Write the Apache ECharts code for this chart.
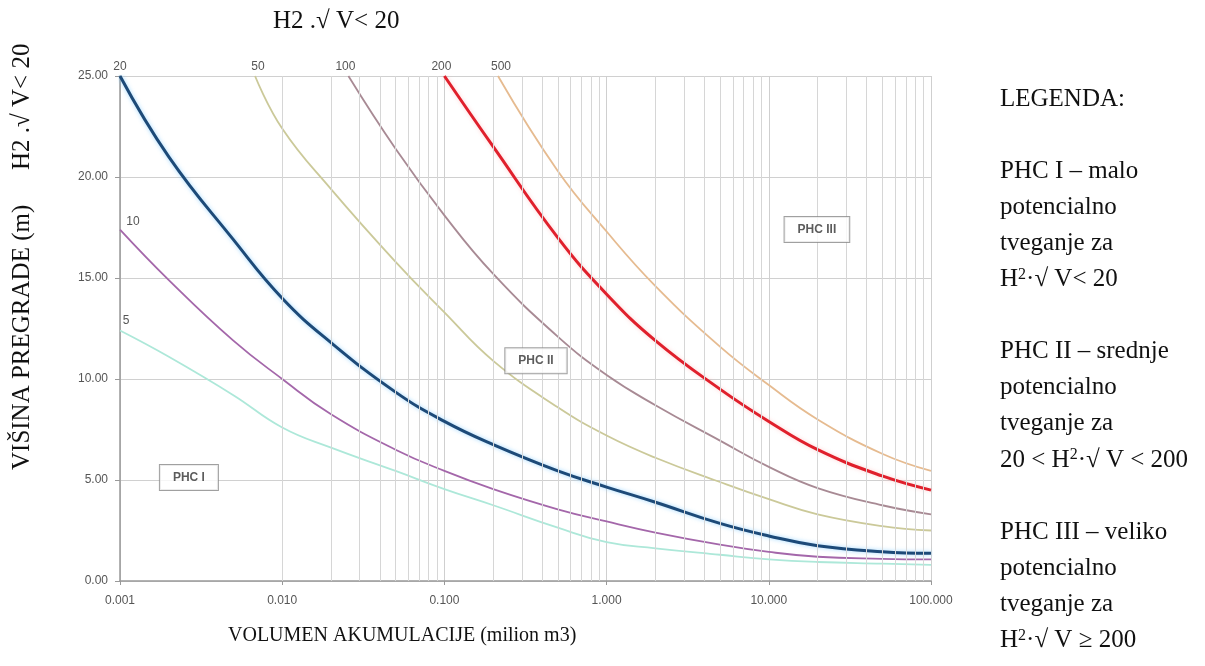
<!DOCTYPE html>
<html>
<head>
<meta charset="utf-8">
<script src="https://cdn.jsdelivr.net/npm/echarts@6/dist/echarts.min.js"></script>
<style>
html,body{margin:0;padding:0;background:#fff;}
#c{width:1205px;height:666px;}
</style>
</head>
<body>
<div id="c"></div>
<script>
// ---- data ----
const curveNames = ['5', '10', '20', '50', '100', '200', '500'];

const vol5 = [0.001,0.002,0.005,0.01,0.02,0.05,0.1,0.2,0.5,1,2,5,10,20,50,100];
const h5   = [12.4,11.1,9.2,7.6,6.6,5.45,4.55,3.75,2.64,1.92,1.62,1.3,1.07,0.94,0.86,0.8];

const vol10 = [0.001,0.002,0.005,0.01,0.02,0.05,0.1,0.2,0.5,1,2,5,10,20,50,100];
const h10   = [17.4,14.9,11.9,10.0,8.25,6.5,5.45,4.55,3.55,2.95,2.4,1.8,1.44,1.2,1.1,1.07];

const vol20 = [0.001,0.002,0.005,0.01,0.02,0.05,0.1,0.2,0.5,1,2,5,10,20,50,100];
const h20   = [25,21.0,16.9,14.0,11.8,9.35,7.9,6.75,5.45,4.65,3.9,2.85,2.23,1.75,1.45,1.37];

const vol50 = [0.0068,0.01,0.02,0.05,0.1,0.2,0.5,1,2,5,10,20,50,100];
const h50   = [25,22.4,19.4,15.8,13.3,10.9,8.6,7.2,6.1,4.9,4.05,3.3,2.72,2.5];

const vol100 = [0.0256,0.05,0.1,0.2,0.5,1,2,5,10,20,50,100];
const h100   = [25,21.4,18.1,15.2,12.1,10.2,8.7,6.95,5.65,4.6,3.75,3.3];

const vol200 = [0.1,0.2,0.5,1,2,5,10,20,50,100];
const h200   = [25,21.5,17.0,14.2,11.9,9.5,7.9,6.5,5.2,4.5];

const vol500 = [0.214,0.5,1,2,5,10,20,50,100];
const h500   = [25,20.3,17.3,14.6,11.6,9.7,8.0,6.3,5.45];

const minorGridVolumes = [
  0.002,0.003,0.004,0.005,0.006,0.007,0.008,0.009,
  0.02,0.03,0.04,0.05,0.06,0.07,0.08,0.09,
  0.2,0.3,0.4,0.5,0.6,0.7,0.8,0.9,
  2,3,4,5,6,7,8,9,
  20,30,40,50,60,70,80,90
];

const zoneLabels = [
  {text: 'PHC I',   vol: 0.00266, h: 5.12},
  {text: 'PHC II',  vol: 0.367,   h: 10.9},
  {text: 'PHC III', vol: 19.8,    h: 17.4}
];

const legendLines = [
  'LEGENDA:', '',
  'PHC I – malo', 'potencialno', 'tveganje za', '{t|H}{s|2}{t|·√ V< 20}', '',
  'PHC II – srednje', 'potencialno', 'tveganje za', '{t|20 < H}{s|2}{t|·√ V < 200}', '',
  'PHC III – veliko', 'potencialno', 'tveganje za', '{t|H}{s|2}{t|·√ V ≥ 200}'
];

// ---- styles ----
const vols = [vol5, vol10, vol20, vol50, vol100, vol200, vol500];
const hs = [h5, h10, h20, h50, h100, h200, h500];
const colors = ['#ade8d9', '#a467aa', '#1d4a78', '#cbc999', '#a88a94', '#e0202c', '#e6bb90'];
const widths = [1.8, 1.8, 3, 1.8, 1.8, 3, 1.8];
const labelOffsets = [[6, 1], [13, 3], [0, 2], [3, 2], [-3, 2], [-3, 2], [3, 2]];

const series = curveNames.map((name, i) => ({
  name: name,
  type: 'line',
  smooth: 0.45,
  showSymbol: true,
  symbol: 'circle',
  symbolSize: 0,
  z: 3,
  itemStyle: {color: colors[i]},
  lineStyle: {
    color: colors[i],
    width: widths[i],
    shadowColor: i === 2 ? 'rgba(120,200,255,0.7)' : (i === 5 ? 'rgba(255,150,150,0.4)' : 'rgba(0,0,0,0)'),
    shadowBlur: (i === 2 || i === 5) ? 4 : 0
  },
  label: {show: false},
  data: vols[i].map((v, k) => {
    const item = {value: [v, hs[i][k]]};
    if (k === 0) {
      item.label = {
        show: true,
        position: 'top',
        offset: labelOffsets[i],
        formatter: name,
        color: '#555',
        fontFamily: 'Liberation Sans, Arial, sans-serif',
        fontSize: 12
      };
    }
    return item;
  })
}));

// minor log grid lines through the x scale
series.push({
  type: 'line',
  data: [],
  silent: true,
  z: 1,
  markLine: {
    silent: true,
    symbol: 'none',
    animation: false,
    label: {show: false},
    lineStyle: {color: '#d6d6d6', width: 1, type: 'solid'},
    data: minorGridVolumes.map(v => ({xAxis: v}))
  }
});

// zone boxes
series.push({
  type: 'scatter',
  z: 5,
  symbolSize: 0,
  silent: true,
  data: zoneLabels.map(z => ({
    value: [z.vol, z.h],
    label: {
      show: true,
      position: 'inside',
      formatter: z.text,
      fontFamily: 'Liberation Sans, Arial, sans-serif',
      fontWeight: 'bold',
      fontSize: 12,
      color: '#333',
      backgroundColor: '#fff',
      borderColor: '#888',
      borderWidth: 1,
      padding: [7, 13, 6, 13]
    }
  }))
});

const serif = '"Liberation Serif", "Times New Roman", serif';

const graphics = [
  {
    type: 'text', x: 273, y: 9,
    style: {text: 'H2 .√ V< 20', font: '25px ' + serif, fill: '#111'}
  },
  {
    type: 'text', x: 228, y: 626,
    style: {text: 'VOLUMEN AKUMULACIJE (milion m3)', font: '20px ' + serif, fill: '#111'}
  },
  {
    type: 'text', x: 10, y: 470, rotation: Math.PI / 2,
    style: {text: 'VIŠINA PREGRADE (m)', font: '25px ' + serif, fill: '#111', textVerticalAlign: 'top'}
  },
  {
    type: 'text', x: 10, y: 170, rotation: Math.PI / 2,
    style: {text: 'H2 .√ V< 20', font: '25px ' + serif, fill: '#111', textVerticalAlign: 'top'}
  }
];

legendLines.forEach((line, i) => {
  if (!line) return;
  graphics.push({
    type: 'text',
    x: 1000,
    y: 99 + i * 36.1,
    style: {
      text: line,
      font: '25px ' + serif,
      fill: '#111',
      verticalAlign: 'middle',
      textVerticalAlign: 'middle',
      rich: {
        t: {fontSize: 25, fontFamily: serif, fill: '#111'},
        s: {fontSize: 16, fontFamily: serif, fill: '#111', verticalAlign: 'top', padding: [0, 0, 10, 0]}
      }
    }
  });
});

const chart = echarts.init(document.getElementById('c'), null, {renderer: 'canvas'});
chart.setOption({
  animation: false,
  backgroundColor: '#fff',
  grid: {left: 120, right: 274, top: 76, bottom: 85},
  xAxis: {
    type: 'log',
    logBase: 10,
    min: 0.001,
    max: 100,
    axisLine: {show: true, lineStyle: {color: '#999', width: 1.5}},
    axisTick: {show: true, length: 4, lineStyle: {color: '#999'}},
    axisLabel: {
      formatter: v => Number(v).toFixed(3),
      color: '#555',
      fontFamily: 'Liberation Sans, Arial, sans-serif',
      fontSize: 12,
      margin: 14
    },
    splitLine: {show: true, lineStyle: {color: '#cfcfcf', width: 1}}
  },
  yAxis: {
    type: 'value',
    min: 0,
    max: 25,
    interval: 5,
    axisLine: {show: true, lineStyle: {color: '#999', width: 1.5}},
    axisTick: {show: true, length: 5, lineStyle: {color: '#999'}},
    axisLabel: {
      formatter: v => Number(v).toFixed(2),
      color: '#555',
      fontFamily: 'Liberation Sans, Arial, sans-serif',
      fontSize: 12,
      margin: 12
    },
    splitLine: {show: true, lineStyle: {color: '#d0d0d0', width: 1.2}}
  },
  series: series,
  graphic: graphics
});
</script>
</body>
</html>
